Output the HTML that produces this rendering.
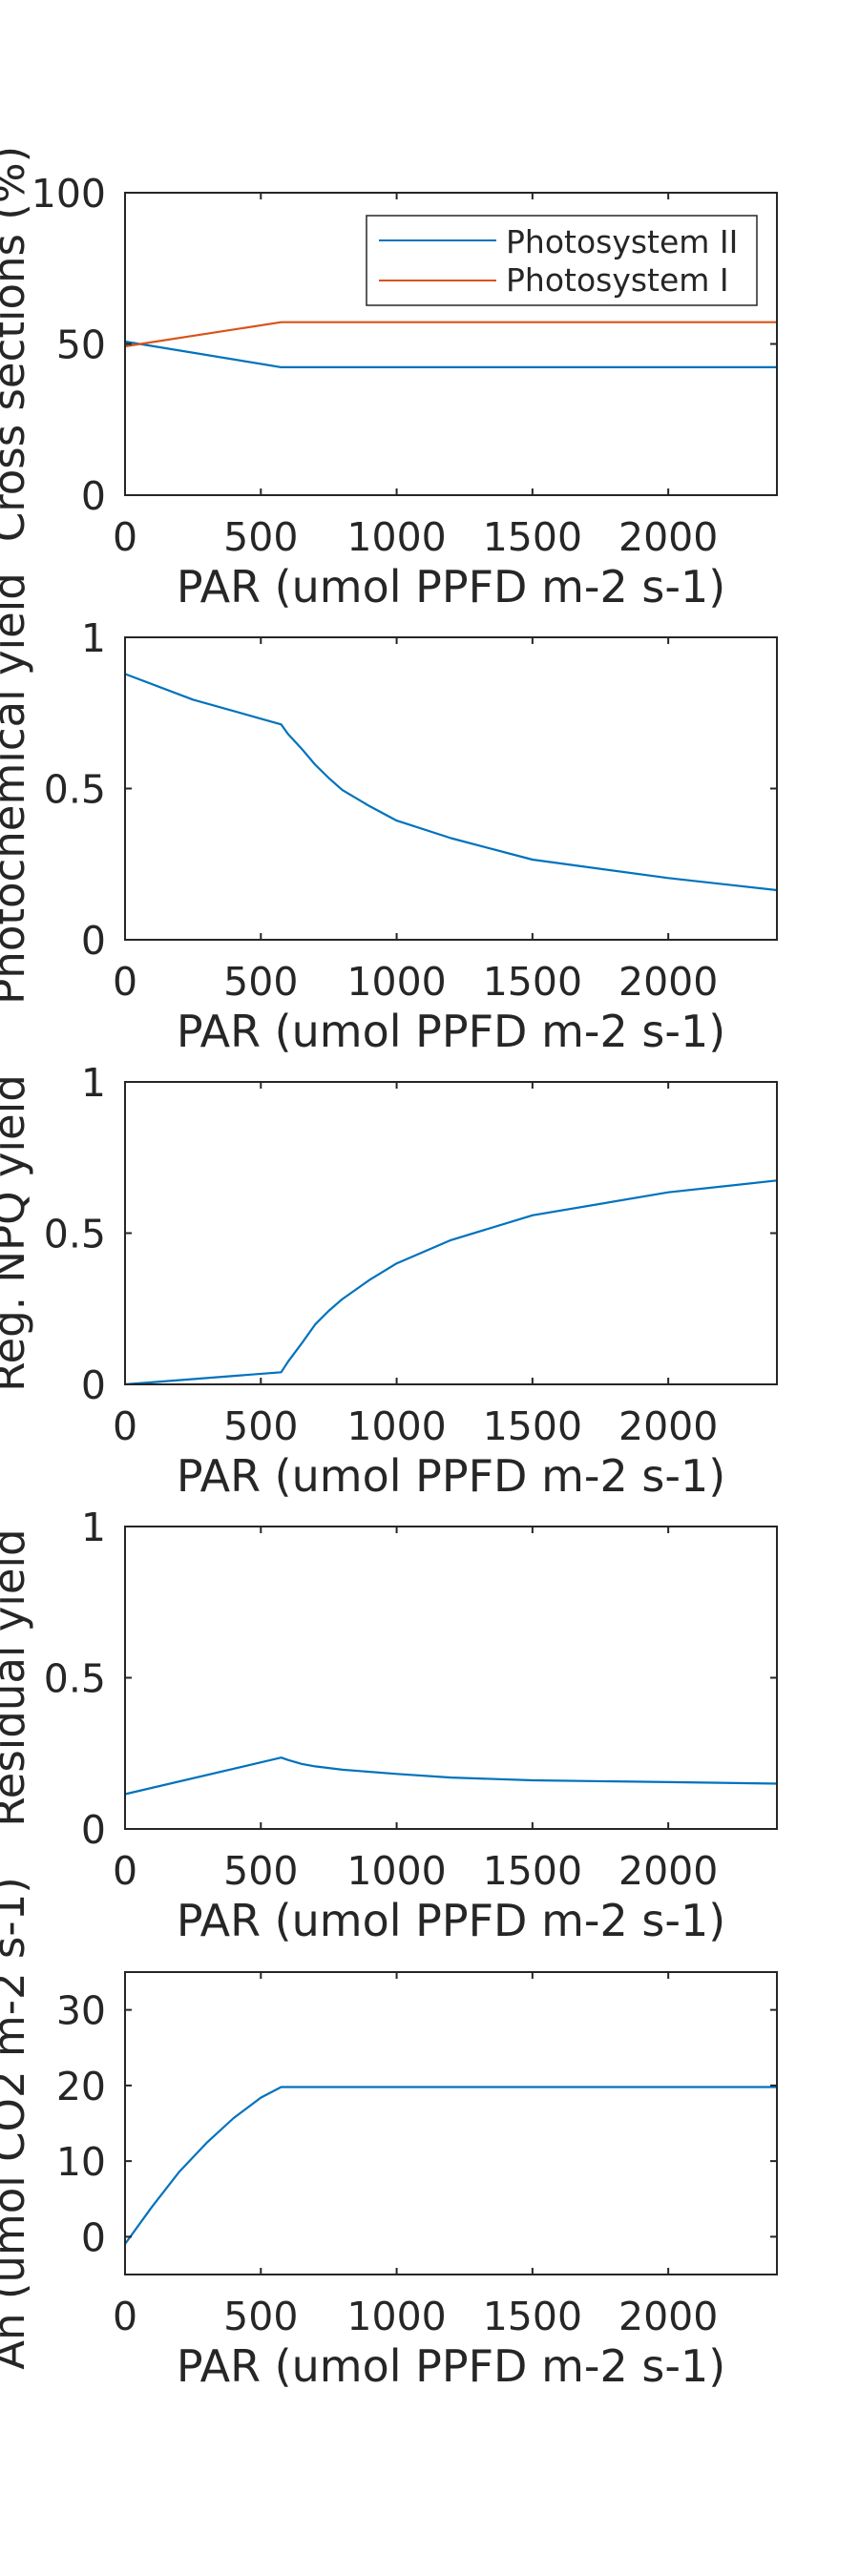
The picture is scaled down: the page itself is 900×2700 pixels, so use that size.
<!DOCTYPE html>
<html><head><meta charset="utf-8"><style>
html,body{margin:0;padding:0;background:#fff;width:900px;height:2700px;overflow:hidden}
svg{display:block}
text{font-family:"DejaVu Sans","Liberation Sans",sans-serif;fill:#262626}
</style></head><body>
<svg id="fig" width="900" height="2700" viewBox="0 0 900 2700" xmlns="http://www.w3.org/2000/svg"></svg>
<script>
// ---- data ----
const xTicks = [0, 500, 1000, 1500, 2000];
const psiiX = [0, 575, 2400];
const psiiY = [50.8, 42.3, 42.3];
const psiX = [0, 575, 2400];
const psiY = [49.2, 57.2, 57.2];
const phoX = [0, 250, 575, 600, 650, 700, 750, 800, 900, 1000, 1200, 1500, 2000, 2400];
const phoY = [0.879, 0.794, 0.712, 0.68, 0.632, 0.579, 0.535, 0.495, 0.442, 0.394, 0.336, 0.265, 0.204, 0.164];
const npqX = [0, 575, 600, 650, 700, 750, 800, 900, 1000, 1200, 1500, 2000, 2400];
const npqY = [0.0, 0.04, 0.075, 0.135, 0.198, 0.243, 0.282, 0.345, 0.40, 0.477, 0.559, 0.635, 0.674];
const resX = [0, 575, 600, 650, 700, 800, 1000, 1200, 1500, 2000, 2400];
const resY = [0.115, 0.236, 0.228, 0.215, 0.207, 0.196, 0.182, 0.170, 0.161, 0.155, 0.150];
const anX = [0, 100, 200, 300, 400, 500, 575, 2400];
const anY = [-0.96, 4.0, 8.6, 12.4, 15.7, 18.4, 19.8, 19.8];
const yTicks1 = [0, 50, 100];
const yTicksYield = [0, 0.5, 1];
const yTicksAn = [0, 10, 20, 30];

const NS = 'http://www.w3.org/2000/svg';
const fig = document.getElementById('fig');
function el(tag, attrs, parent) {
  const e = document.createElementNS(NS, tag);
  for (const k in attrs) e.setAttribute(k, attrs[k]);
  (parent || fig).appendChild(e);
  return e;
}
const L = 131, R = 814, H = 317, XMAX = 2400;
const panels = [
  {top: 202, ymin: 0, ymax: 100, ticks: yTicks1, label: 'Cross sections (%)', name: 'cross-sections'},
  {top: 668, ymin: 0, ymax: 1, ticks: yTicksYield, label: 'Photochemical yield', name: 'photochemical-yield'},
  {top: 1134, ymin: 0, ymax: 1, ticks: yTicksYield, label: 'Reg. NPQ yield', name: 'npq-yield'},
  {top: 1600, ymin: 0, ymax: 1, ticks: yTicksYield, label: 'Residual yield', name: 'residual-yield'},
  {top: 2067, ymin: -5, ymax: 35, ticks: yTicksAn, label: 'An (umol CO2 m-2 s-1)', name: 'net-assimilation'}
];
const series = [
  [{x: psiiX, y: psiiY, c: '#0072BD', n: 'line-photosystem-ii'}, {x: psiX, y: psiY, c: '#D95319', n: 'line-photosystem-i'}],
  [{x: phoX, y: phoY, c: '#0072BD', n: 'line-photochemical-yield'}],
  [{x: npqX, y: npqY, c: '#0072BD', n: 'line-npq-yield'}],
  [{x: resX, y: resY, c: '#0072BD', n: 'line-residual-yield'}],
  [{x: anX, y: anY, c: '#0072BD', n: 'line-an'}]
];
const fmt = v => String(v);
panels.forEach((p, i) => {
  const g = el('g', {});
  
  
  const B = p.top + H;
  const sx = v => L + (v / XMAX) * (R - L);
  const sy = v => B - (v - p.ymin) / (p.ymax - p.ymin) * H;
  series[i].forEach(s => {
    const pts = s.x.map((x, k) => sx(x).toFixed(1) + ',' + sy(s.y[k]).toFixed(1)).join(' ');
    const pl = el('polyline', {points: pts, fill: 'none', stroke: s.c, 'stroke-width': 2.2, 'stroke-linejoin': 'round'}, g);
    
    
  });
  const box = el('rect', {x: L, y: p.top, width: R - L, height: H, fill: 'none', stroke: '#262626', 'stroke-width': 2}, g);
  
  
  xTicks.forEach(t => {
    const x = sx(t);
    el('line', {x1: x, y1: B, x2: x, y2: B - 7, stroke: '#262626', 'stroke-width': 2}, g);
    el('line', {x1: x, y1: p.top, x2: x, y2: p.top + 7, stroke: '#262626', 'stroke-width': 2}, g);
    const tx = el('text', {x: x, y: B + 58, 'font-size': 41, 'text-anchor': 'middle'}, g);
    tx.textContent = fmt(t);
    
    
  });
  p.ticks.forEach(t => {
    const y = sy(t);
    el('line', {x1: L, y1: y, x2: L + 7, y2: y, stroke: '#262626', 'stroke-width': 2}, g);
    el('line', {x1: R, y1: y, x2: R - 7, y2: y, stroke: '#262626', 'stroke-width': 2}, g);
    const ty = el('text', {x: 111, y: y + 15, 'font-size': 41, 'text-anchor': 'end'}, g);
    ty.textContent = fmt(t);
    
    
  });
  const xl = el('text', {x: (L + R) / 2, y: B + 112, 'font-size': 46, 'text-anchor': 'middle'}, g);
  xl.textContent = 'PAR (umol PPFD m-2 s-1)';
  
  
  const cy = p.top + H / 2;
  const yl = el('text', {x: 0, y: 0, 'font-size': 45, 'text-anchor': 'middle', transform: 'translate(25,' + cy + ') rotate(-90)'}, g);
  yl.textContent = p.label;
  
  
});
const lg = el('g', {});


el('rect', {x: 384, y: 226, width: 409, height: 94, fill: '#fff', stroke: '#262626', 'stroke-width': 1.5}, lg);
const legItems = [['Photosystem II', '#0072BD', 252, 265], ['Photosystem I', '#D95319', 294, 305]];
legItems.forEach(it => {
  const e = el('g', {}, lg);
  
  
  el('line', {x1: 397, y1: it[2], x2: 520, y2: it[2], stroke: it[1], 'stroke-width': 2}, e);
  const t = el('text', {x: 530, y: it[3], 'font-size': 33}, e);
  t.textContent = it[0];
});
</script>
</body></html>
